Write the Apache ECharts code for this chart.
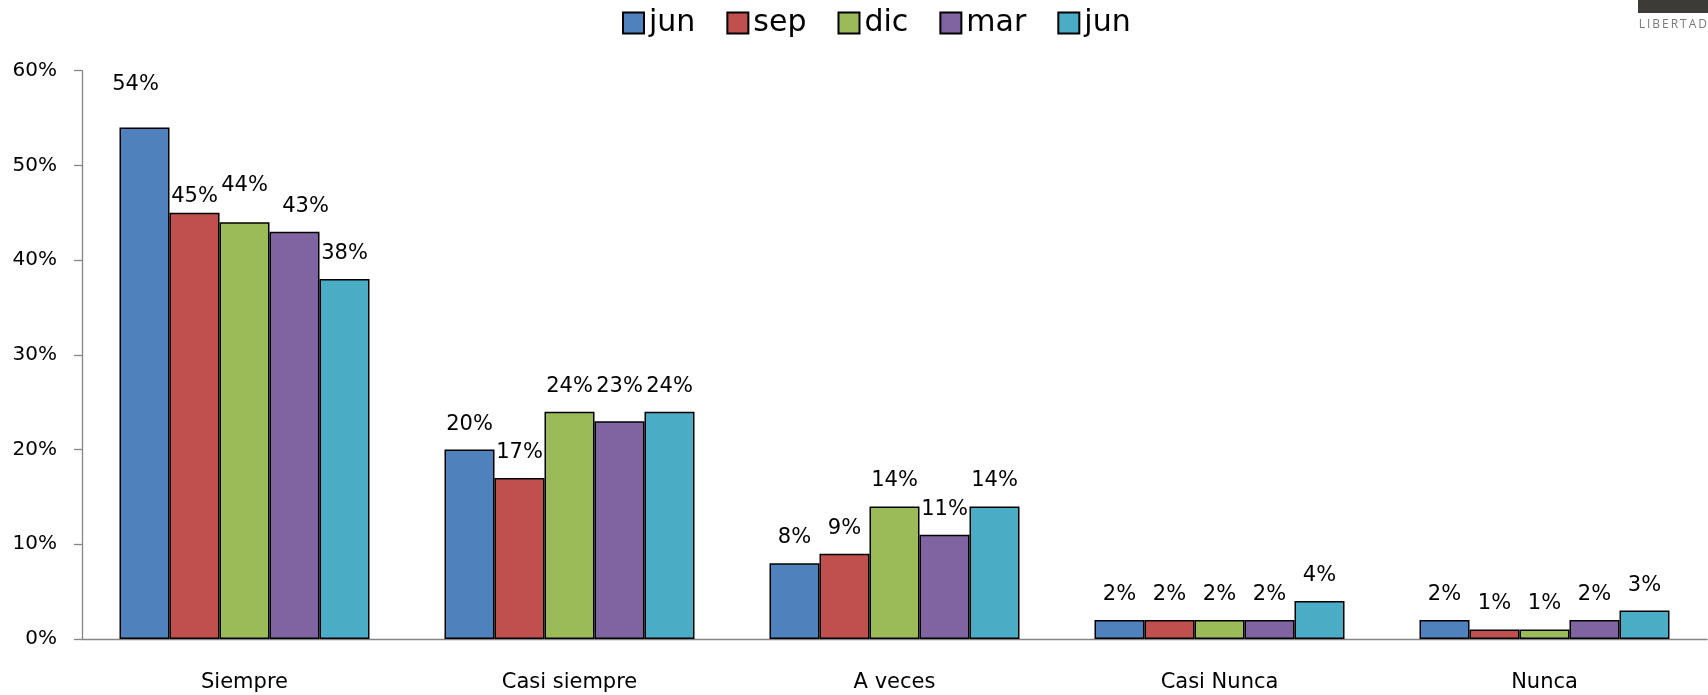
<!DOCTYPE html>
<html><head><meta charset="utf-8">
<script src="https://cdn.jsdelivr.net/npm/echarts@6/dist/echarts.min.js"></script>
<style>html,body{margin:0;padding:0;background:#fff}#c{width:1708px;height:695px}</style>
</head><body><div id="c"></div>
<script>
const categories = ['Siempre', 'Casi siempre', 'A veces', 'Casi Nunca', 'Nunca'];
const seriesNames = ['jun', 'sep', 'dic', 'mar', 'jun'];
const junA = [54, 20, 8, 2, 2];
const sep = [45, 17, 9, 2, 1];
const dic = [44, 24, 14, 2, 1];
const mar = [43, 23, 11, 2, 2];
const junB = [38, 24, 14, 4, 3];
const yTicks = [0, 10, 20, 30, 40, 50, 60];

const seriesValues = [junA, sep, dic, mar, junB];
const colors = ['#4F81BD', '#C0504D', '#9BBB59', '#8064A2', '#4BACC6'];
const FONT = 'DejaVu Sans';

// manual label nudges (series index -> category index -> [dx, dy])
const nudges = { '0-0': [-9, -17], '1-0': [0, 9], '2-0': [0, -11], '3-0': [11, 0], '3-1': [0, -9] };

// make duplicate names distinct for the legend
const seen = {};
const uniqueNames = seriesNames.map(n => { seen[n] = (seen[n] || 0) + 1; return n + '\u200B'.repeat(seen[n] - 1); });

const chart = echarts.init(document.getElementById('c'), null, { renderer: 'canvas' });
chart.setOption({
  animation: false,
  color: colors,
  textStyle: { fontFamily: FONT },
  legend: {
    data: uniqueNames,
    left: 622, top: 8, padding: 0,
    icon: 'rect', itemWidth: 21, itemHeight: 21, itemGap: 31,
    textStyle: { fontFamily: FONT, fontSize: 30, color: '#000' }
  },
  grid: { left: 82, right: 1, top: 70.7, bottom: 56 },
  xAxis: {
    type: 'category', data: categories,
    axisLine: { lineStyle: { color: '#868686', width: 1.3 } },
    axisTick: { length: 8, lineStyle: { color: '#868686', width: 1.3 } },
    axisLabel: { fontFamily: FONT, fontSize: 21, color: '#000', margin: 33, lineHeight: 21 }
  },
  yAxis: {
    type: 'value', min: yTicks[0], max: yTicks[yTicks.length - 1], interval: yTicks[1] - yTicks[0],
    splitLine: { show: false },
    axisLine: { show: true, lineStyle: { color: '#868686', width: 1.3 } },
    axisTick: { show: true, length: 8, lineStyle: { color: '#868686', width: 1.3 } },
    axisLabel: { fontFamily: FONT, fontSize: 20, color: '#000', margin: 25, formatter: '{value}%' }
  },
  graphic: [
    { type: 'rect', right: 0, top: 0, shape: { width: 70, height: 13 }, style: { fill: '#3d3b37' } },
    { type: 'text', right: 1, top: 19, style: { text: 'L\u2009I\u2009B\u2009E\u2009R\u2009T\u2009A\u2009D', font: '12px "Open Sans"', fill: '#7a7a7a' } }
  ],
  series: seriesValues.map((vals, si) => ({
    type: 'bar', name: uniqueNames[si],
    barWidth: 50, barGap: '0%',
    itemStyle: { borderColor: '#000', borderWidth: 1.5 },
    label: { show: true, position: 'top', distance: 15, fontFamily: FONT, fontSize: 21, color: '#000', formatter: '{c}%' },
    data: vals.map((v, ci) => {
      const nd = nudges[si + '-' + ci];
      return nd ? { value: v, label: { offset: nd } } : v;
    })
  }))
});
</script></body></html>
